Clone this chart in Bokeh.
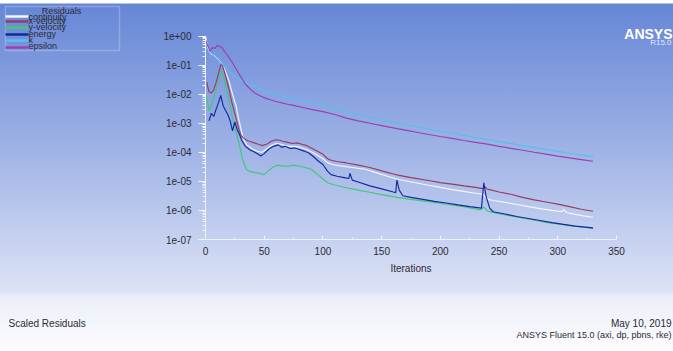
from bokeh.plotting import figure
from bokeh.models import Range1d, Label, BoxAnnotation, FixedTicker, CustomJSTickFormatter
from bokeh.embed import file_html
from bokeh.resources import INLINE

# ---------------- data ----------------
series_names = ["continuity", "x-velocity", "y-velocity", "energy", "k", "epsilon"]
series_colors = ["#f4f6fb", "#963c64", "#40c878", "#1428a0", "#55c0f0", "#9a40b0"]

cont_it = [0, 1, 3, 5, 8, 11, 14, 17, 20, 23, 26, 28, 30, 32, 35, 40, 45, 48, 52, 56, 60, 64, 68, 72, 76, 80,
           85, 90, 95, 100, 104, 108, 115, 125, 136, 145, 155, 163, 170, 180, 191, 200, 210, 220, 230, 236, 238,
           241, 245, 255, 265, 275, 285, 295, 303, 305, 308, 315, 322, 330]
cont_val = [1.0, 0.6, 0.3, 0.24, 0.2, 0.15, 0.11, 0.06, 0.028, 0.01, 0.004, 0.0015, 7e-4, 3e-4, 1.8e-4, 1.3e-4,
            1.05e-4, 1.0e-4, 1.3e-4, 1.7e-4, 2.0e-4, 1.9e-4, 1.7e-4, 1.6e-4, 1.6e-4, 1.5e-4, 1.3e-4, 1.05e-4,
            8e-5, 6e-5, 4.4e-5, 3.8e-5, 3.4e-5, 3.0e-5, 2.6e-5, 2.0e-5, 1.5e-5, 1.2e-5, 1.05e-5, 8.8e-6, 7.2e-6,
            6.2e-6, 5.2e-6, 4.5e-6, 3.9e-6, 3.6e-6, 3.0e-6, 2.4e-6, 2.2e-6, 1.9e-6, 1.6e-6, 1.35e-6, 1.15e-6,
            1.0e-6, 9e-7, 1.05e-6, 8.3e-7, 7.3e-7, 6.5e-7, 5.8e-7]

xvel_it = [1, 3, 5, 7, 9, 11, 13, 14, 16, 18, 20, 22, 24, 26, 28, 30, 32, 35, 40, 45, 48, 52, 56, 60, 63, 66,
           70, 74, 78, 82, 86, 90, 95, 100, 104, 107, 112, 120, 130, 140, 150, 160, 165, 175, 190, 200, 210,
           220, 230, 236, 238, 240, 250, 260, 270, 280, 290, 300, 310, 320, 330]
xvel_val = [0.026, 0.012, 0.011, 0.014, 0.025, 0.05, 0.1, 0.11, 0.06, 0.03, 0.015, 0.006, 0.003, 0.0015, 7e-4,
            4e-4, 3.2e-4, 2.6e-4, 2.2e-4, 1.9e-4, 1.7e-4, 1.9e-4, 2.4e-4, 2.7e-4, 2.6e-4, 2.4e-4, 2.2e-4, 2.0e-4,
            2.1e-4, 1.9e-4, 1.7e-4, 1.4e-4, 1.1e-4, 8.5e-5, 6e-5, 5.3e-5, 4.8e-5, 4.3e-5, 3.6e-5, 3.0e-5, 2.3e-5,
            1.8e-5, 1.6e-5, 1.35e-5, 1.07e-5, 9e-6, 8e-6, 7e-6, 6.2e-6, 5.6e-6, 6.5e-6, 5.4e-6, 4.3e-6, 3.6e-6,
            2.8e-6, 2.3e-6, 1.95e-6, 1.65e-6, 1.35e-6, 1.1e-6, 9.4e-7]

yvel_it = [1, 3, 5, 8, 11, 14, 16, 18, 20, 22, 24, 26, 28, 30, 32, 35, 38, 42, 46, 50, 53, 57, 61, 65, 70, 75,
           80, 85, 90, 95, 100, 104, 110, 118, 130, 140, 150, 163, 175, 190, 205, 220, 234, 237, 240, 250, 260,
           270, 280, 290, 300, 310, 320, 330]
yvel_val = [8e-3, 2.7e-3, 4e-3, 1e-2, 3e-2, 6.5e-2, 3e-2, 1.5e-2, 6e-3, 2.5e-3, 1e-3, 5e-4, 2.5e-4, 1.1e-4, 5e-5,
            2.5e-5, 2.2e-5, 2.0e-5, 1.9e-5, 1.7e-5, 2.2e-5, 3.0e-5, 3.6e-5, 3.4e-5, 3.3e-5, 3.6e-5, 3.3e-5, 3.0e-5,
            2.6e-5, 1.8e-5, 1.2e-5, 9e-6, 7.5e-6, 6.3e-6, 5e-6, 4.2e-6, 3.5e-6, 2.8e-6, 2.4e-6, 2e-6, 1.65e-6,
            1.35e-6, 1.05e-6, 1.3e-6, 9.5e-7, 7.8e-7, 6.5e-7, 5.5e-7, 4.6e-7, 3.9e-7, 3.4e-7, 3e-7, 2.7e-7, 2.4e-7]

energy_it = [3, 5, 7, 9, 11, 13, 15, 17, 19, 21, 23, 25, 27, 29, 31, 34, 38, 42, 45, 47, 50, 54, 58, 62, 65, 68,
             72, 76, 80, 84, 88, 92, 96, 100, 104, 107, 112, 118, 122, 123, 125, 130, 140, 150, 160, 162, 163, 165,
             168, 175, 185, 195, 205, 215, 225, 235, 237, 239, 242, 245, 255, 265, 275, 285, 295, 305, 315, 330]
energy_val = [1.2e-3, 2.2e-3, 1.7e-3, 3e-3, 5e-3, 9e-3, 4e-3, 2.8e-3, 2e-3, 1.2e-3, 5.5e-4, 1.1e-3, 6e-4, 4e-4,
              2.5e-4, 1.6e-4, 1.2e-4, 1e-4, 8.5e-5, 7.5e-5, 9e-5, 1.3e-4, 1.6e-4, 1.8e-4, 1.5e-4, 1.6e-4, 1.35e-4,
              1.4e-4, 1.25e-4, 1.1e-4, 9.5e-5, 7e-5, 5e-5, 3.8e-5, 2.2e-5, 1.7e-5, 1.5e-5, 1.35e-5, 1.25e-5,
              1.9e-5, 1.1e-5, 9.5e-6, 7e-6, 5.5e-6, 4.3e-6, 4.1e-6, 1.1e-5, 5e-6, 3.2e-6, 2.8e-6, 2.4e-6, 2.05e-6,
              1.8e-6, 1.55e-6, 1.35e-6, 1.2e-6, 9e-6, 3e-6, 1.2e-6, 9e-7, 7.5e-7, 6.2e-7, 5.3e-7, 4.5e-7, 3.8e-7,
              3.3e-7, 2.9e-7, 2.5e-7]

k_it = [0, 3, 6, 10, 14, 18, 22, 26, 30, 35, 40, 45, 50, 60, 70, 80, 90, 100, 110, 120, 130, 140, 150, 160, 170,
        180, 190, 200, 210, 220, 230, 240, 250, 260, 270, 280, 290, 300, 310, 320, 330]
k_val = [0.42, 0.3, 0.23, 0.16, 0.11, 0.075, 0.052, 0.038, 0.03, 0.024, 0.02, 0.016, 0.013, 0.0095, 0.0078, 0.0064,
         0.0053, 0.0043, 0.0033, 0.0025, 0.002, 0.0016, 0.0013, 0.0011, 9e-4, 7.5e-4, 6.3e-4, 5.3e-4, 4.5e-4,
         3.8e-4, 3.2e-4, 2.75e-4, 2.35e-4, 2e-4, 1.7e-4, 1.45e-4, 1.25e-4, 1.08e-4, 9.3e-5, 8.1e-5, 7.1e-5]

eps_it = [0, 2, 4, 6, 8, 10, 12, 14, 16, 18, 20, 23, 26, 30, 34, 38, 42, 46, 50, 55, 60, 65, 70, 75, 80, 90, 100,
          110, 120, 130, 140, 150, 160, 170, 180, 190, 200, 210, 220, 230, 240, 250, 260, 270, 280, 290, 300, 310,
          320, 330]
eps_val = [0.75, 0.45, 0.3, 0.4, 0.37, 0.48, 0.44, 0.4, 0.3, 0.24, 0.18, 0.12, 0.075, 0.04, 0.022, 0.015, 0.011,
           0.009, 0.0076, 0.0064, 0.0056, 0.005, 0.0045, 0.0041, 0.0037, 0.003, 0.0025, 0.002, 0.0015, 0.0012,
           0.001, 8.3e-4, 6.9e-4, 5.8e-4, 4.9e-4, 4.1e-4, 3.5e-4, 3.0e-4, 2.55e-4, 2.2e-4, 1.9e-4, 1.6e-4,
           1.37e-4, 1.17e-4, 1.0e-4, 8.6e-5, 7.4e-5, 6.4e-5, 5.6e-5, 4.9e-5]

x_ticks = [0, 50, 100, 150, 200, 250, 300, 350]
y_decades = [-7, -6, -5, -4, -3, -2, -1, 0]

series_it = [cont_it, xvel_it, yvel_it, energy_it, k_it, eps_it]
series_val = [cont_val, xvel_val, yvel_val, energy_val, k_val, eps_val]

# ---------------- layout (pixels) ----------------
W, H = 673, 351
AX_L, AX_R, AX_T, AX_B = 205, 616, 35.5, 239      # where the axes sit on the canvas
X0, X1 = x_ticks[0], x_ticks[-1]
D0, D1 = y_decades[0], y_decades[-1]
upp = (X1 - X0) / (AX_R - AX_L)
dpp = (D1 - D0) / (AX_B - AX_T)
x_range = Range1d(X0 - AX_L * upp, X1 + (W - AX_R) * upp)
y_range = Range1d(10.0 ** (D0 - (H - AX_B) * dpp), 10.0 ** (D1 + AX_T * dpp))

FONT = "Liberation Sans"
TXT = "#2b2b33"

p = figure(width=W, height=H, y_axis_type="log", x_range=x_range, y_range=y_range,
           output_backend="svg", toolbar_location=None,
           min_border=0, min_border_left=0, min_border_right=0, min_border_top=0, min_border_bottom=0)

p.background_fill_alpha = 0
p.border_fill_alpha = 0
p.outline_line_color = None
p.grid.visible = False
p.styles = {"background": "linear-gradient(to bottom, #ffffff 0px, #ffffff 3px, #6686d6 4px, #9fb3e6 150px, "
                          "#dde3f6 292px, #eceff9 297px, #fcfcff 351px)"}

for its, vals, col in zip(series_it, series_val, series_colors):
    p.line(its, vals, line_color=col, line_width=1.15)

# axes (placed at fixed data positions)
ax_col = "#eef2fa"
xa = p.xaxis[0]
xa.fixed_location = 10.0 ** D0
xa.bounds = (X0, X1)
xa.ticker = FixedTicker(ticks=x_ticks, minor_ticks=[t + 25 for t in x_ticks[:-1]])
xa.axis_line_color = ax_col
xa.major_tick_line_color = ax_col
xa.minor_tick_line_color = ax_col
xa.major_tick_in = 4
xa.major_tick_out = 0
xa.minor_tick_in = 2
xa.minor_tick_out = 0
xa.major_label_standoff = 7
xa.major_label_text_font = FONT
xa.major_label_text_font_size = "10px"
xa.major_label_text_color = TXT
xa.axis_label = "Iterations"
xa.axis_label_text_font = FONT
xa.axis_label_text_font_size = "10px"
xa.axis_label_text_font_style = "normal"
xa.axis_label_text_color = TXT
xa.axis_label_standoff = 5

ya = p.yaxis[0]
ya.fixed_location = X0
ya.bounds = (10.0 ** D0, 10.0 ** D1)
ya.ticker = FixedTicker(ticks=[10.0 ** e for e in y_decades],
                        minor_ticks=[m * 10.0 ** e for e in y_decades[:-1] for m in range(2, 10)])
ya.formatter = CustomJSTickFormatter(code="""
const e = Math.round(Math.log10(tick));
const a = Math.abs(e);
return "1e" + (e < 0 ? "-" : "+") + (a < 10 ? "0" : "") + a;
""")
ya.axis_line_color = ax_col
ya.major_tick_line_color = ax_col
ya.minor_tick_line_color = ax_col
ya.major_tick_in = 0
ya.major_tick_out = 7
ya.minor_tick_in = 0
ya.minor_tick_out = 3
ya.major_label_standoff = 7
ya.major_label_text_font = FONT
ya.major_label_text_font_size = "10px"
ya.major_label_text_color = TXT

# legend box (drawn by hand, as in the original)
CU = dict(left_units="canvas", right_units="canvas", top_units="canvas", bottom_units="canvas")
p.add_layout(BoxAnnotation(left=5, right=119, top=6, bottom=50, **CU,
                           fill_alpha=0, line_color="#dce8ea", line_width=1.5))
p.add_layout(Label(x=61, y=10, x_units="canvas", y_units="canvas", text="Residuals",
                   text_font=FONT, text_font_size="9px", text_color=TXT,
                   text_align="center", text_baseline="middle"))
line_y = [16, 21, 27, 34, 40, 47]
text_y = [16, 20, 26, 33, 39, 45]
for name, col, ly, ty in zip(series_names, series_colors, line_y, text_y):
    p.add_layout(BoxAnnotation(left=5, right=28, top=ly - 1.2, bottom=ly + 1.2, **CU,
                               fill_color=col, fill_alpha=1, line_color=None))
    p.add_layout(Label(x=28, y=ty, x_units="canvas", y_units="canvas", text=name,
                       text_font=FONT, text_font_size="9px", text_color=TXT,
                       text_align="left", text_baseline="middle"))

# logo
p.add_layout(Label(x=672, y=33, x_units="canvas", y_units="canvas", text="ANSYS",
                   text_font=FONT, text_font_size="14px", text_font_style="bold",
                   text_color="#ffffff", text_align="right", text_baseline="alphabetic"))
p.add_layout(Label(x=671, y=42, x_units="canvas", y_units="canvas", text="R15.0",
                   text_font=FONT, text_font_size="8px",
                   text_color="#e2e8f6", text_align="right", text_baseline="alphabetic"))

# footer texts
p.add_layout(Label(x=8, y=323, x_units="canvas", y_units="canvas", text="Scaled Residuals",
                   text_font=FONT, text_font_size="10px", text_color=TXT,
                   text_align="left", text_baseline="middle"))
p.add_layout(Label(x=671, y=323, x_units="canvas", y_units="canvas", text="May 10, 2019",
                   text_font=FONT, text_font_size="10px", text_color=TXT,
                   text_align="right", text_baseline="middle"))
p.add_layout(Label(x=671, y=334, x_units="canvas", y_units="canvas", text="ANSYS Fluent 15.0 (axi, dp, pbns, rke)",
                   text_font=FONT, text_font_size="9px", text_color=TXT,
                   text_align="right", text_baseline="middle"))

open("out.html", "w").write(file_html(p, INLINE))
